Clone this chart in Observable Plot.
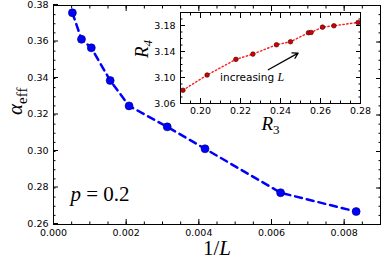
<!DOCTYPE html>
<html>
<head>
<meta charset="utf-8">
<script src="https://cdn.jsdelivr.net/npm/d3@7"></script>
<script src="https://cdn.jsdelivr.net/npm/@observablehq/plot@0.6"></script>
<style>
  html, body { margin: 0; padding: 0; background: white; }
  #wrap { position: relative; width: 382px; height: 264px; overflow: hidden; }
  #wrap svg { position: absolute; }
</style>
</head>
<body>
<div id="wrap"></div>
<script>
// ---- main data ----
const invL = [0.00052, 0.00077, 0.00104, 0.00156, 0.00208, 0.00313, 0.00417, 0.00625, 0.00833];
const alphaEff = [0.376, 0.3615, 0.3568, 0.3389, 0.325, 0.3135, 0.3015, 0.2774, 0.2671];
const xMajor = [0, 0.002, 0.004, 0.006, 0.008];
const xMinor = d3.range(0, 0.00901, 0.0005);
const yMajor = [0.26, 0.28, 0.30, 0.32, 0.34, 0.36, 0.38];
const yMinor = d3.range(0.26, 0.3801, 0.005);

// ---- inset data ----
const R3 = [0.1912, 0.2033, 0.2177, 0.2262, 0.238, 0.245, 0.254, 0.2553, 0.261, 0.2667, 0.2788];
const R4 = [3.0804, 3.1038, 3.1279, 3.136, 3.1504, 3.155, 3.1689, 3.1693, 3.1775, 3.1796, 3.1847];
const r3Major = [0.20, 0.22, 0.24, 0.26, 0.28];
const r3Minor = d3.range(0.19, 0.2801, 0.005);
const r4Major = [3.06, 3.10, 3.14, 3.18];
const r4Minor = d3.range(3.06, 3.2001, 0.01);
const arrowFrom = [0.2339, 3.112];
const arrowTo = [0.2488, 3.1376];
const annot = {x: 0.2258, y: 3.10, text: "increasing L"};

const mainPts = invL.map((x, i) => ({x, y: alphaEff[i]}));
const insetPts = R3.map((x, i) => ({x, y: R4[i]}));

const blank = () => "";
const font = "DejaVu Sans, sans-serif";
const serif = "Liberation Serif, serif";

function ticksX(major, minor, fmt, pad) {
  return [
    Plot.axisX({ticks: major, anchor: "bottom", tickSize: -5, tickPadding: pad, tickFormat: fmt, fontSize: 9.5, label: null}),
    Plot.axisX({ticks: minor, anchor: "bottom", tickSize: -2.5, tickFormat: blank, label: null}),
    Plot.axisX({ticks: major, anchor: "top", tickSize: -5, tickFormat: blank, label: null}),
    Plot.axisX({ticks: minor, anchor: "top", tickSize: -2.5, tickFormat: blank, label: null})
  ];
}
function ticksY(major, minor, fmt, dy) {
  return [
    Plot.axisY({ticks: major, anchor: "left", tickSize: -5, tickPadding: 10, tickFormat: fmt, fontSize: 9.5, dy, label: null}),
    Plot.axisY({ticks: minor, anchor: "left", tickSize: -2.5, tickFormat: blank, label: null}),
    Plot.axisY({ticks: major, anchor: "right", tickSize: -5, tickFormat: blank, label: null}),
    Plot.axisY({ticks: minor, anchor: "right", tickSize: -2.5, tickFormat: blank, label: null})
  ];
}

const main = Plot.plot({
  width: 382, height: 264,
  marginLeft: 53, marginRight: 2, marginTop: 5, marginBottom: 40,
  style: {fontFamily: font, fontSize: "10px", background: "white", color: "black", overflow: "visible"},
  x: {domain: [0, 0.009], label: null},
  y: {domain: [0.26, 0.38], label: null},
  marks: [
    ...ticksX(xMajor, xMinor, d3.format(".3f"), 10),
    ...ticksY(yMajor, yMinor, d3.format(".2f"), -1),
    Plot.line(mainPts, {x: "x", y: "y", stroke: "#0000ff", strokeWidth: 2.5, strokeDasharray: "7,5"}),
    Plot.dot(mainPts, {x: "x", y: "y", r: 4, fill: "#0000ff", stroke: "#00006e", strokeWidth: 0.6}),
    Plot.frame({stroke: "black", strokeWidth: 1}),
    Plot.text(["ALPHA"], {frameAnchor: "left", dx: -38, rotate: -90, fontSize: 21, fontFamily: serif}),
    Plot.text(["XLABEL"], {frameAnchor: "bottom", dy: 30, fontSize: 21, fontFamily: serif}),
    Plot.text(["PLABEL"], {frameAnchor: "bottom-left", textAnchor: "start", dx: 17, dy: -24, fontSize: 21, fontFamily: serif})
  ]
});
main.style.left = "0px"; main.style.top = "0px";

const inset = Plot.plot({
  width: 235, height: 142,
  marginLeft: 50, marginRight: 5, marginTop: 12, marginBottom: 39,
  style: {fontFamily: font, fontSize: "10px", background: "none", color: "black", overflow: "visible"},
  x: {domain: [0.19, 0.28], label: null},
  y: {domain: [3.06, 3.2], label: null},
  marks: [
    Plot.frame({fill: "white", stroke: "none"}),
    ...ticksX(r3Major, r3Minor, d3.format(".2f"), 9),
    ...ticksY(r4Major, r4Minor, d3.format(".2f"), 0),
    Plot.line(insetPts, {x: "x", y: "y", stroke: "#ff1a1a", strokeWidth: 1.4, strokeDasharray: "1.4,2.4"}),
    Plot.dot(insetPts, {x: "x", y: "y", r: 2.3, fill: "#d40000", stroke: "#300000", strokeWidth: 0.6}),
    Plot.arrow([0], {x1: () => arrowFrom[0], y1: () => arrowFrom[1], x2: () => arrowTo[0], y2: () => arrowTo[1], stroke: "black", strokeWidth: 1.3, headLength: 7}),
    Plot.text([annot], {x: "x", y: "y", text: "text", fontSize: 10.5, fontFamily: font}),
    Plot.frame({stroke: "black", strokeWidth: 1}),
    Plot.text(["R4LABEL"], {frameAnchor: "left", dx: -39, rotate: -90, fontSize: 19, fontFamily: serif}),
    Plot.text(["R3LABEL"], {frameAnchor: "bottom", dy: 26, fontSize: 19, fontFamily: serif})
  ]
});
inset.style.left = "130px"; inset.style.top = "0px";

const wrap = document.getElementById("wrap");
wrap.appendChild(main);
wrap.appendChild(inset);

function rewrite(svg, key, parts) {
  d3.select(svg).selectAll("text").each(function () {
    if (this.textContent !== key) return;
    const t = d3.select(this);
    t.text(null);
    for (const p of parts) {
      const ts = t.append("tspan").text(p.t);
      if (p.italic) ts.attr("font-style", "italic");
      if (p.size) ts.attr("font-size", p.size);
      if (p.dy) ts.attr("dy", p.dy);
      if (p.family) ts.attr("font-family", p.family);
    }
  });
}
rewrite(main, "ALPHA", [{t: "α", italic: true}, {t: "eff", size: 15, dy: 5}]);
rewrite(main, "XLABEL", [{t: "1/"}, {t: "L", italic: true}]);
rewrite(main, "PLABEL", [{t: "p", italic: true}, {t: " = 0.2"}]);
rewrite(inset, "R4LABEL", [{t: "R", italic: true}, {t: "4", size: 13, dy: 4, italic: true}]);
rewrite(inset, "R3LABEL", [{t: "R", italic: true}, {t: "3", size: 13, dy: 4}]);
rewrite(inset, "increasing L", [{t: "increasing "}, {t: "L", italic: true, family: serif, size: 12}]);
</script>
</body>
</html>
